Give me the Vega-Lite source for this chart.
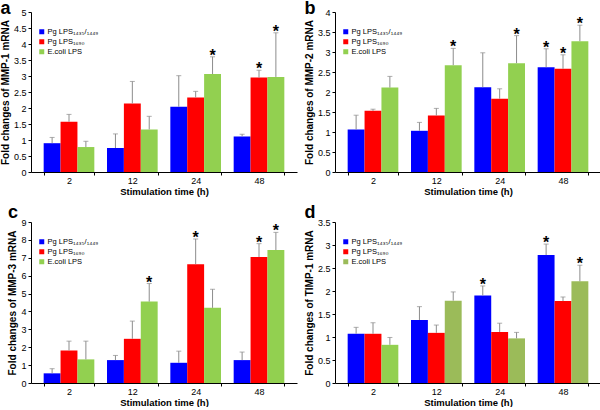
{
  "$schema": "https://vega.github.io/schema/vega-lite/v6.json",
  "padding": {"left": 0, "top": 0, "right": 1, "bottom": 0},
  "bounds": "flush",
  "columns": 2,
  "spacing": {"row": 50, "column": 38},
  "config": {
    "font": "Liberation Sans",
    "view": {"stroke": null},
    "axis": {"domainColor": "#000", "tickColor": "#000", "labelColor": "#000", "titleColor": "#000", "grid": false, "labelFontSize": 9, "titleFontSize": 10, "titleFontWeight": "bold"},
    "axisX": {"labelAngle": 0, "tickBand": "extent", "tickSize": 3, "labelPadding": 1, "titlePadding": 1, "titleFontSize": 9.5},
    "axisY": {"tickSize": 3, "labelPadding": 2, "format": "~g", "titlePadding": 3},
    "scale": {"bandPaddingInner": 0.33, "bandPaddingOuter": 0.165, "offsetBandPaddingInner": 0, "offsetBandPaddingOuter": 0},
    "legend": {"orient": "none", "legendX": 7, "legendY": 16, "padding": 0, "symbolType": "square", "symbolSize": 25, "symbolStrokeWidth": 0, "labelFontSize": 7.5, "rowPadding": 1, "labelOffset": 2, "labelColor": "#000"},
    "title": {"anchor": "start", "frame": "bounds", "fontSize": 18, "fontWeight": "bold", "offset": -8, "color": "#000"}
  },
  "datasets": {
    "vals": [
      {"panel": "a", "time": 2, "group": "Pg LPS₁₄₃₅/₁₄₄₉", "value": 0.9, "err": 1.08, "sig": 0},
      {"panel": "a", "time": 2, "group": "Pg LPS₁₆₉₀", "value": 1.57, "err": 1.8, "sig": 0},
      {"panel": "a", "time": 2, "group": "E.coli LPS", "value": 0.78, "err": 0.96, "sig": 0},
      {"panel": "a", "time": 12, "group": "Pg LPS₁₄₃₅/₁₄₄₉", "value": 0.75, "err": 1.19, "sig": 0},
      {"panel": "a", "time": 12, "group": "Pg LPS₁₆₉₀", "value": 2.14, "err": 2.83, "sig": 0},
      {"panel": "a", "time": 12, "group": "E.coli LPS", "value": 1.33, "err": 1.74, "sig": 0},
      {"panel": "a", "time": 24, "group": "Pg LPS₁₄₃₅/₁₄₄₉", "value": 2.04, "err": 3.01, "sig": 0},
      {"panel": "a", "time": 24, "group": "Pg LPS₁₆₉₀", "value": 2.33, "err": 2.52, "sig": 0},
      {"panel": "a", "time": 24, "group": "E.coli LPS", "value": 3.06, "err": 3.6, "sig": 1},
      {"panel": "a", "time": 48, "group": "Pg LPS₁₄₃₅/₁₄₄₉", "value": 1.11, "err": 1.18, "sig": 0},
      {"panel": "a", "time": 48, "group": "Pg LPS₁₆₉₀", "value": 2.95, "err": 3.18, "sig": 1},
      {"panel": "a", "time": 48, "group": "E.coli LPS", "value": 2.97, "err": 4.35, "sig": 1},
      {"panel": "b", "time": 2, "group": "Pg LPS₁₄₃₅/₁₄₄₉", "value": 1.06, "err": 1.42, "sig": 0},
      {"panel": "b", "time": 2, "group": "Pg LPS₁₆₉₀", "value": 1.53, "err": 1.57, "sig": 0},
      {"panel": "b", "time": 2, "group": "E.coli LPS", "value": 2.11, "err": 2.39, "sig": 0},
      {"panel": "b", "time": 12, "group": "Pg LPS₁₄₃₅/₁₄₄₉", "value": 1.03, "err": 1.24, "sig": 0},
      {"panel": "b", "time": 12, "group": "Pg LPS₁₆₉₀", "value": 1.41, "err": 1.59, "sig": 0},
      {"panel": "b", "time": 12, "group": "E.coli LPS", "value": 2.67, "err": 3.09, "sig": 1},
      {"panel": "b", "time": 24, "group": "Pg LPS₁₄₃₅/₁₄₄₉", "value": 2.12, "err": 2.98, "sig": 0},
      {"panel": "b", "time": 24, "group": "Pg LPS₁₆₉₀", "value": 1.83, "err": 2.08, "sig": 0},
      {"panel": "b", "time": 24, "group": "E.coli LPS", "value": 2.72, "err": 3.41, "sig": 1},
      {"panel": "b", "time": 48, "group": "Pg LPS₁₄₃₅/₁₄₄₉", "value": 2.62, "err": 3.08, "sig": 1},
      {"panel": "b", "time": 48, "group": "Pg LPS₁₆₉₀", "value": 2.58, "err": 2.93, "sig": 1},
      {"panel": "b", "time": 48, "group": "E.coli LPS", "value": 3.27, "err": 3.67, "sig": 1},
      {"panel": "c", "time": 2, "group": "Pg LPS₁₄₃₅/₁₄₄₉", "value": 0.54, "err": 0.8, "sig": 0},
      {"panel": "c", "time": 2, "group": "Pg LPS₁₆₉₀", "value": 1.82, "err": 2.34, "sig": 0},
      {"panel": "c", "time": 2, "group": "E.coli LPS", "value": 1.32, "err": 2.34, "sig": 0},
      {"panel": "c", "time": 12, "group": "Pg LPS₁₄₃₅/₁₄₄₉", "value": 1.28, "err": 1.54, "sig": 0},
      {"panel": "c", "time": 12, "group": "Pg LPS₁₆₉₀", "value": 2.47, "err": 3.46, "sig": 0},
      {"panel": "c", "time": 12, "group": "E.coli LPS", "value": 4.55, "err": 5.56, "sig": 1},
      {"panel": "c", "time": 24, "group": "Pg LPS₁₄₃₅/₁₄₄₉", "value": 1.13, "err": 1.78, "sig": 0},
      {"panel": "c", "time": 24, "group": "Pg LPS₁₆₉₀", "value": 6.64, "err": 8.05, "sig": 1},
      {"panel": "c", "time": 24, "group": "E.coli LPS", "value": 4.2, "err": 5.24, "sig": 0},
      {"panel": "c", "time": 48, "group": "Pg LPS₁₄₃₅/₁₄₄₉", "value": 1.28, "err": 1.73, "sig": 0},
      {"panel": "c", "time": 48, "group": "Pg LPS₁₆₉₀", "value": 7.04, "err": 7.79, "sig": 1},
      {"panel": "c", "time": 48, "group": "E.coli LPS", "value": 7.43, "err": 8.42, "sig": 1},
      {"panel": "d", "time": 2, "group": "Pg LPS₁₄₃₅/₁₄₄₉", "value": 1.07, "err": 1.21, "sig": 0},
      {"panel": "d", "time": 2, "group": "Pg LPS₁₆₉₀", "value": 1.07, "err": 1.31, "sig": 0},
      {"panel": "d", "time": 2, "group": "E.coli LPS", "value": 0.83, "err": 0.99, "sig": 0},
      {"panel": "d", "time": 12, "group": "Pg LPS₁₄₃₅/₁₄₄₉", "value": 1.37, "err": 1.66, "sig": 0},
      {"panel": "d", "time": 12, "group": "Pg LPS₁₆₉₀", "value": 1.09, "err": 1.26, "sig": 0},
      {"panel": "d", "time": 12, "group": "E.coli LPS", "value": 1.79, "err": 1.98, "sig": 0},
      {"panel": "d", "time": 24, "group": "Pg LPS₁₄₃₅/₁₄₄₉", "value": 1.9, "err": 2.11, "sig": 1},
      {"panel": "d", "time": 24, "group": "Pg LPS₁₆₉₀", "value": 1.11, "err": 1.3, "sig": 0},
      {"panel": "d", "time": 24, "group": "E.coli LPS", "value": 0.97, "err": 1.1, "sig": 0},
      {"panel": "d", "time": 48, "group": "Pg LPS₁₄₃₅/₁₄₄₉", "value": 2.78, "err": 3.02, "sig": 1},
      {"panel": "d", "time": 48, "group": "Pg LPS₁₆₉₀", "value": 1.78, "err": 1.87, "sig": 0},
      {"panel": "d", "time": 48, "group": "E.coli LPS", "value": 2.21, "err": 2.56, "sig": 1}
    ]
  },
  "resolve": {"scale": {"color": "independent", "y": "independent", "x": "independent", "xOffset": "independent"}, "legend": {"color": "independent"}, "axis": {"y": "independent", "x": "independent"}},
  "concat": [
    {
      "width": 266, "height": 160,
      "title": {"text": "a", "offset": -10},
      "data": {"name": "vals"},
      "transform": [{"filter": "datum.panel=='a'"}],
      "encoding": {
        "x": {"field": "time", "type": "ordinal", "sort": [2, 12, 24, 48], "title": "Stimulation time (h)"},
        "xOffset": {"field": "group", "type": "nominal", "sort": ["Pg LPS₁₄₃₅/₁₄₄₉", "Pg LPS₁₆₉₀", "E.coli LPS"]},
        "y": {"field": "value", "type": "quantitative", "scale": {"domain": [0, 5]}, "axis": {"values": [0, 0.5, 1, 1.5, 2, 2.5, 3, 3.5, 4, 4.5, 5]}, "title": "Fold changes of MMP-1 mRNA"}
      },
      "layer": [
        {"mark": "bar", "encoding": {"color": {"field": "group", "type": "nominal", "scale": {"domain": ["Pg LPS₁₄₃₅/₁₄₄₉", "Pg LPS₁₆₉₀", "E.coli LPS"], "range": ["#0000ff", "#ff0000", "#92d050"]}, "legend": {"title": null}}}},
        {"mark": {"type": "rule", "color": "#8c8c8c"}, "encoding": {"y2": {"field": "err"}}},
        {"mark": {"type": "tick", "color": "#8c8c8c", "size": 5, "thickness": 1}, "encoding": {"y": {"field": "err", "type": "quantitative", "title": "Fold changes of MMP-1 mRNA"}}},
        {"transform": [{"filter": "datum.sig==1"}], "mark": {"type": "text", "text": "*", "fontSize": 16, "fontWeight": "bold", "baseline": "top", "dy": -9, "color": "#000"}, "encoding": {"y": {"field": "err", "type": "quantitative", "title": "Fold changes of MMP-1 mRNA"}}}
      ]
    },
    {
      "width": 266, "height": 160,
      "title": {"text": "b", "offset": -10},
      "data": {"name": "vals"},
      "transform": [{"filter": "datum.panel=='b'"}],
      "encoding": {
        "x": {"field": "time", "type": "ordinal", "sort": [2, 12, 24, 48], "title": "Stimulation time (h)"},
        "xOffset": {"field": "group", "type": "nominal", "sort": ["Pg LPS₁₄₃₅/₁₄₄₉", "Pg LPS₁₆₉₀", "E.coli LPS"]},
        "y": {"field": "value", "type": "quantitative", "scale": {"domain": [0, 4]}, "axis": {"values": [0, 0.5, 1, 1.5, 2, 2.5, 3, 3.5, 4]}, "title": "Fold changes of MMP-2 mRNA"}
      },
      "layer": [
        {"mark": "bar", "encoding": {"color": {"field": "group", "type": "nominal", "scale": {"domain": ["Pg LPS₁₄₃₅/₁₄₄₉", "Pg LPS₁₆₉₀", "E.coli LPS"], "range": ["#0000ff", "#ff0000", "#92d050"]}, "legend": {"title": null}}}},
        {"mark": {"type": "rule", "color": "#8c8c8c"}, "encoding": {"y2": {"field": "err"}}},
        {"mark": {"type": "tick", "color": "#8c8c8c", "size": 5, "thickness": 1}, "encoding": {"y": {"field": "err", "type": "quantitative", "title": "Fold changes of MMP-2 mRNA"}}},
        {"transform": [{"filter": "datum.sig==1"}], "mark": {"type": "text", "text": "*", "fontSize": 16, "fontWeight": "bold", "baseline": "top", "dy": -9, "color": "#000"}, "encoding": {"y": {"field": "err", "type": "quantitative", "title": "Fold changes of MMP-2 mRNA"}}}
      ]
    },
    {
      "width": 266, "height": 161,
      "title": {"text": "c", "offset": -4},
      "data": {"name": "vals"},
      "transform": [{"filter": "datum.panel=='c'"}],
      "encoding": {
        "x": {"field": "time", "type": "ordinal", "sort": [2, 12, 24, 48], "title": "Stimulation time (h)"},
        "xOffset": {"field": "group", "type": "nominal", "sort": ["Pg LPS₁₄₃₅/₁₄₄₉", "Pg LPS₁₆₉₀", "E.coli LPS"]},
        "y": {"field": "value", "type": "quantitative", "scale": {"domain": [0, 9]}, "axis": {"values": [0, 1, 2, 3, 4, 5, 6, 7, 8, 9]}, "title": "Fold changes of MMP-3 mRNA"}
      },
      "layer": [
        {"mark": "bar", "encoding": {"color": {"field": "group", "type": "nominal", "scale": {"domain": ["Pg LPS₁₄₃₅/₁₄₄₉", "Pg LPS₁₆₉₀", "E.coli LPS"], "range": ["#0000ff", "#ff0000", "#92d050"]}, "legend": {"title": null}}}},
        {"mark": {"type": "rule", "color": "#8c8c8c"}, "encoding": {"y2": {"field": "err"}}},
        {"mark": {"type": "tick", "color": "#8c8c8c", "size": 5, "thickness": 1}, "encoding": {"y": {"field": "err", "type": "quantitative", "title": "Fold changes of MMP-3 mRNA"}}},
        {"transform": [{"filter": "datum.sig==1"}], "mark": {"type": "text", "text": "*", "fontSize": 16, "fontWeight": "bold", "baseline": "top", "dy": -9, "color": "#000"}, "encoding": {"y": {"field": "err", "type": "quantitative", "title": "Fold changes of MMP-3 mRNA"}}}
      ]
    },
    {
      "width": 266, "height": 161,
      "title": {"text": "d", "offset": -4},
      "data": {"name": "vals"},
      "transform": [{"filter": "datum.panel=='d'"}],
      "encoding": {
        "x": {"field": "time", "type": "ordinal", "sort": [2, 12, 24, 48], "title": "Stimulation time (h)"},
        "xOffset": {"field": "group", "type": "nominal", "sort": ["Pg LPS₁₄₃₅/₁₄₄₉", "Pg LPS₁₆₉₀", "E.coli LPS"]},
        "y": {"field": "value", "type": "quantitative", "scale": {"domain": [0, 3.5]}, "axis": {"values": [0, 0.5, 1, 1.5, 2, 2.5, 3, 3.5]}, "title": "Fold changes of TIMP-1 mRNA"}
      },
      "layer": [
        {"mark": "bar", "encoding": {"color": {"condition": {"test": "datum.time==2 && datum.group=='E.coli LPS'", "value": "#92d050"}, "field": "group", "type": "nominal", "scale": {"domain": ["Pg LPS₁₄₃₅/₁₄₄₉", "Pg LPS₁₆₉₀", "E.coli LPS"], "range": ["#0000ff", "#ff0000", "#9bbb59"]}, "legend": {"title": null}}}},
        {"mark": {"type": "rule", "color": "#8c8c8c"}, "encoding": {"y2": {"field": "err"}}},
        {"mark": {"type": "tick", "color": "#8c8c8c", "size": 5, "thickness": 1}, "encoding": {"y": {"field": "err", "type": "quantitative", "title": "Fold changes of TIMP-1 mRNA"}}},
        {"transform": [{"filter": "datum.sig==1"}], "mark": {"type": "text", "text": "*", "fontSize": 16, "fontWeight": "bold", "baseline": "top", "dy": -9, "color": "#000"}, "encoding": {"y": {"field": "err", "type": "quantitative", "title": "Fold changes of TIMP-1 mRNA"}}}
      ]
    }
  ]
}
